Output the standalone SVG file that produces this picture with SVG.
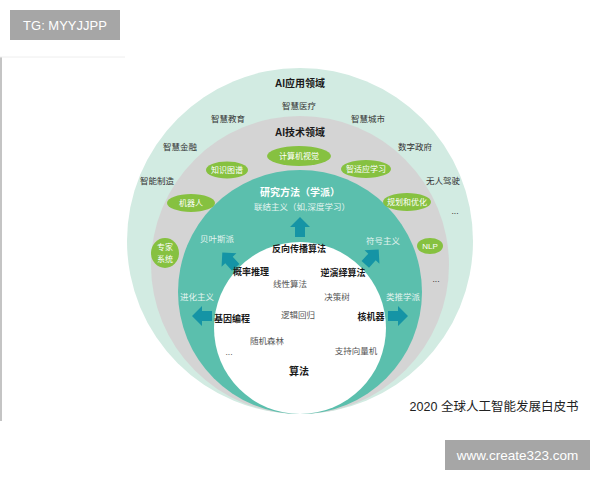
<svg xmlns="http://www.w3.org/2000/svg" width="600" height="480" viewBox="0 0 600 480">
<defs>
<style>
text{font-family:'Liberation Sans','Noto Sans CJK SC',sans-serif;text-anchor:middle;dominant-baseline:central}
.h{font-size:10px;font-weight:bold;fill:#1a1a1a}
.app{font-size:8.5px;fill:#333}
.ell{fill:#86c140}
.et{font-size:8px;fill:#fff}
.tt{font-size:8.5px;fill:#e4f4f0}
.b{font-size:9px;font-weight:bold;fill:#1a1a1a}
.g{font-size:8.5px;fill:#555}
.arr{fill:#1594a5}
</style>
<path id="ar" d="M0,-10 L10,0 L5,0 L5,10 L-5,10 L-5,0 L-10,0 Z"/>
</defs>
<rect width="600" height="480" fill="#fff"/>
<line x1="1" y1="57" x2="1" y2="421" stroke="#b0b0b0" stroke-width="1.5"/>
<line x1="0" y1="57" x2="125" y2="57" stroke="#eeeeee" stroke-width="1"/>
<g id="tg"><rect x="10" y="10" width="110" height="30" fill="#a6a6a6"/><text x="65" y="25.5" style="font-size:13px;fill:#fff">TG: MYYJJPP</text></g>

<g id="ring-app"><circle cx="300" cy="241" r="173" fill="#d2ebe2"/></g>
<g id="ring-tech"><circle cx="300" cy="265" r="149" fill="#d4d4d4"/></g>
<g id="ring-method"><circle cx="300" cy="292" r="122" fill="#5bbfad"/></g>
<g id="ring-algo"><circle cx="300" cy="328" r="86" fill="#ffffff"/></g>

<g id="app-labels">
<text class="h" x="300" y="83">AI应用领域</text>
<text class="app" x="299" y="106">智慧医疗</text>
<text class="app" x="228" y="119">智慧教育</text>
<text class="app" x="368" y="119">智慧城市</text>
<text class="app" x="180" y="147">智慧金融</text>
<text class="app" x="415" y="147">数字政府</text>
<text class="app" x="157" y="181">智能制造</text>
<text class="app" x="443" y="181">无人驾驶</text>
<text class="app" x="455" y="211">...</text>
</g>

<g id="tech-labels">
<text class="h" x="300" y="132">AI技术领域</text>
<text class="app" x="436" y="279">...</text>
</g>
<g id="n-cv"><ellipse class="ell" cx="299" cy="156" rx="32" ry="10"/><text class="et" x="299" y="156">计算机视觉</text></g>
<g id="n-kg"><ellipse class="ell" cx="227" cy="170" rx="21" ry="8.5"/><text class="et" x="227" y="170">知识图谱</text></g>
<g id="n-al"><ellipse class="ell" cx="366" cy="169" rx="25" ry="9"/><text class="et" x="366" y="169">智适应学习</text></g>
<g id="n-robot"><ellipse class="ell" cx="191" cy="203" rx="24" ry="9"/><text class="et" x="191" y="203">机器人</text></g>
<g id="n-plan"><ellipse class="ell" cx="407" cy="202" rx="24" ry="9"/><text class="et" x="407" y="202">规划和优化</text></g>
<g id="n-expert"><ellipse class="ell" cx="165" cy="253" rx="14" ry="15"/><text class="et" x="165" y="247">专家</text><text class="et" x="165" y="259">系统</text></g>
<g id="n-nlp"><ellipse class="ell" cx="430" cy="246" rx="13" ry="8"/><text class="et" x="430" y="246">NLP</text></g>

<g id="method-labels">
<text x="300" y="192" style="font-size:10px;font-weight:bold;fill:#fff">研究方法（学派）</text>
<text class="tt" x="302" y="207">联结主义（如,深度学习）</text>
<text class="tt" x="217" y="239">贝叶斯派</text>
<text class="tt" x="383" y="241">符号主义</text>
<text class="tt" x="197" y="297">进化主义</text>
<text class="tt" x="403" y="297">类推学派</text>
</g>

<g id="connectors">
<use href="#ar" class="arr" transform="translate(300,227)"/>
<use href="#ar" class="arr" transform="translate(229,260) rotate(-42)"/>
<use href="#ar" class="arr" transform="translate(372,257) rotate(42)"/>
<use href="#ar" class="arr" transform="translate(202,316) rotate(-90)"/>
<use href="#ar" class="arr" transform="translate(398,316) rotate(90)"/>
</g>

<g id="algo-labels">
<text class="b" x="299" y="249">反向传播算法</text>
<text class="b" x="251" y="272">概率推理</text>
<text class="b" x="343" y="273">逆演绎算法</text>
<text class="g" x="290" y="284">线性算法</text>
<text class="g" x="337" y="297">决策树</text>
<text class="b" x="232" y="319">基因编程</text>
<text class="g" x="298" y="315">逻辑回归</text>
<text class="b" x="371" y="317">核机器</text>
<text class="g" x="267" y="341">随机森林</text>
<text class="g" x="356" y="351">支持向量机</text>
<text class="g" x="229" y="352">...</text>
<text x="299" y="371" style="font-size:10px;font-weight:bold;fill:#1a1a1a">算法</text>
</g>

<g id="caption"><text x="494" y="407" style="font-size:12.5px;fill:#222">2020 全球人工智能发展白皮书</text></g>
<g id="watermark"><rect x="445" y="440" width="145" height="30" fill="#a6a6a6"/><text x="517.5" y="455.5" style="font-size:13.5px;fill:#fff">www.create323.com</text></g>
</svg>
